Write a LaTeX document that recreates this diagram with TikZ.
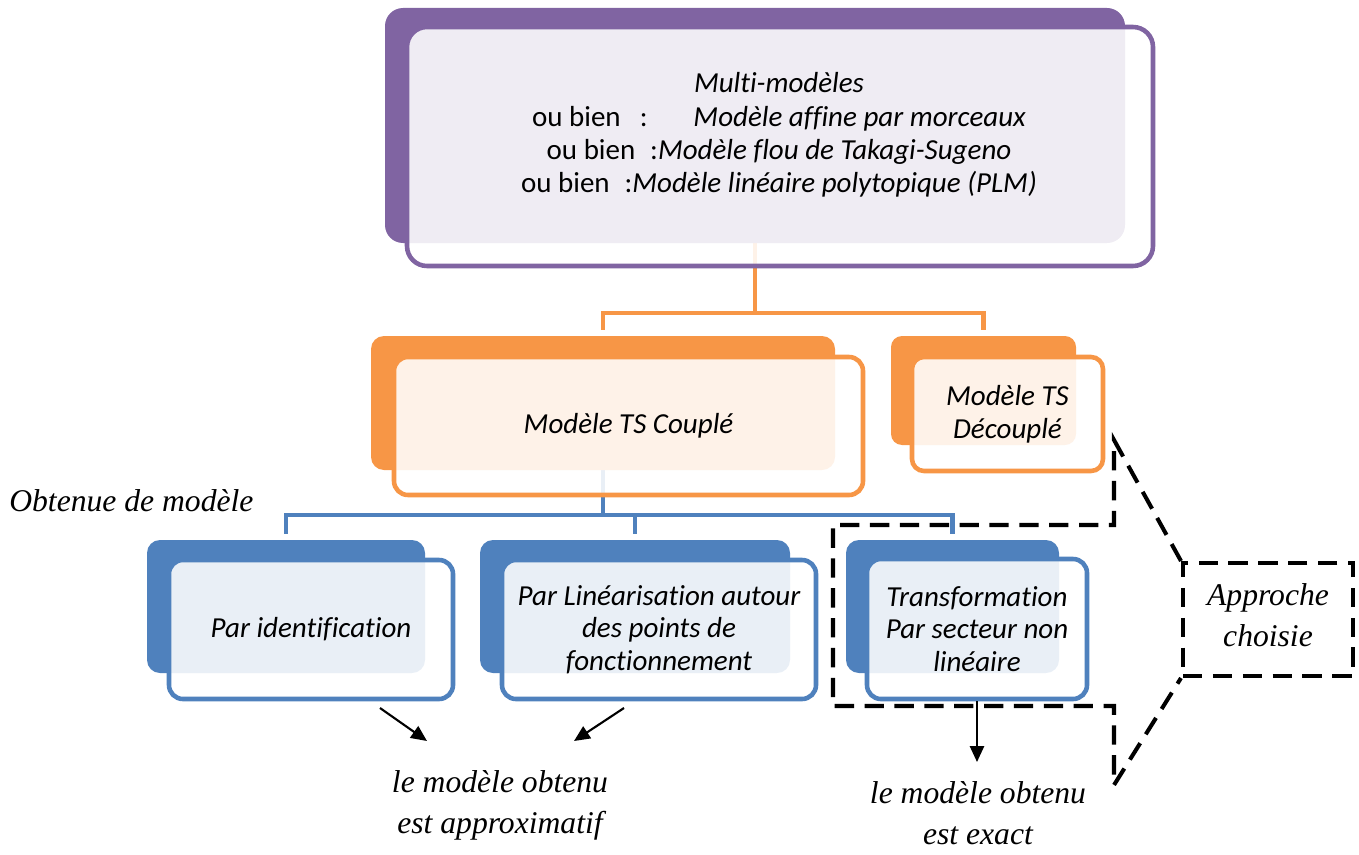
\documentclass[tikz,border=0pt]{standalone}
\usepackage{fontspec}
\setmainfont{Carlito}[Ligatures=NoCommon]
\newfontfamily\tms{Liberation Serif}
\usetikzlibrary{fit,arrows.meta}
\definecolor{mpurple}{HTML}{8064A2}
\definecolor{morange}{HTML}{F79646}
\definecolor{mblue}{HTML}{4F81BD}
\pgfdeclarelayer{bg}
\pgfsetlayers{bg,main}
\newcommand\calitext{\fontsize{16.5}{18.6}\selectfont\itshape}
\newcommand\notetext{\tms\itshape\fontsize{18}{23.4}\selectfont}
\tikzset{
  backbox/.style={fill=#1, rounded corners=0.26cm, inner sep=0pt},
  frontbox/.style={draw=#1, line width=2.6pt, fill=white, fill opacity=0.88,
    rounded corners=0.28cm, inner sep=0pt},
  boxtext/.style={align=center, inner sep=0pt, font=\calitext},
  link/.style={draw=#1, line width=2.4pt},
  pointer/.style={line width=1.2pt, -{Triangle[length=9pt,width=8pt]}},
  callout/.style={line width=2.3pt, dash pattern=on 11pt off 6pt},
  note/.style={font=\notetext, align=center, inner sep=0pt},
}
\begin{document}
\begin{tikzpicture}[x=0.02cm, y=-0.02cm]
\useasboundingbox (0,0) rectangle (1359,855);

% --- top level: family of multi-models
\node[backbox=mpurple, rounded corners=0.36cm, fit={(385,8) (1125,243)}] (topback) {};
\node[frontbox=mpurple, rounded corners=0.4cm, fit={(407,27) (1153,266)}] (topfront) {};
\node[align=center, inner sep=0pt, font=\fontsize{16.5}{19}\selectfont] (toptext) at (779,135)
  {\textit{Multi-modèles}\\
   ou bien\hspace{11pt}:\hspace{26pt}\textit{Modèle affine par morceaux}\\
   ou bien\hspace{8.5pt}:\textit{Modèle flou de Takagi-Sugeno}\\
   ou bien\hspace{8.5pt}:\textit{Modèle linéaire polytopique (PLM)}};

% --- second level: Takagi-Sugeno variants
\node[backbox=morange, fit={(371,336) (835,470)}] (cback) {};
\node[frontbox=morange, fit={(394,357) (863,495)}] (cfront) {};
\node[boxtext] (ctext) at (cfront.center) {Modèle TS Couplé};
\node[backbox=morange, rounded corners=0.22cm, fit={(891,336) (1076,445)}] (dback) {};
\node[frontbox=morange, rounded corners=0.24cm, fit={(912,357) (1103,471)}] (dfront) {};
\node[boxtext] (dtext) at (dfront.center) {Modèle TS\\Découplé};

% --- third level: ways of obtaining the model
\node[backbox=mblue, fit={(147,540) (425,673)}] (b1back) {};
\node[frontbox=mblue, fit={(169,560) (453,699)}] (b1front) {};
\node[boxtext] (b1text) at (b1front.center) {Par identification};
\node[backbox=mblue, fit={(480,540) (790,673)}] (b2back) {};
\node[frontbox=mblue, fit={(502,560) (816,699)}] (b2front) {};
\node[boxtext] (b2text) at (b2front.center) {Par Linéarisation autour\\des points de\\fonctionnement};
\node[backbox=mblue, fit={(846,540) (1059,673)}] (b3back) {};
\node[frontbox=mblue, fit={(867,559) (1087,699)}] (b3front) {};
\node[boxtext] (b3text) at (b3front.center) {Transformation\\Par secteur non\\linéaire};

% --- tree connectors, kept behind the boxes
\begin{pgfonlayer}{bg}
  \draw[link=morange] (topback.south) -- ++(0,70) coordinate (oj);
  \draw[link=morange, shorten <=3.4pt, shorten >=3.4pt] (cback.north) |- (oj) -| (dback.north);
  \draw[link=mblue] (cback.south) -- ++(0,45) coordinate (bj);
  \draw[link=mblue, shorten <=3.4pt, shorten >=3.4pt] (b1back.north) |- (bj) -| (b3back.north);
  \draw[link=mblue, shorten >=3.4pt] (bj -| b2back.north) -- (b2back.north);
\end{pgfonlayer}

% --- annotations
\node[note, anchor=base west] (obt) at (9,511) {Obtenue de modèle};
\node[note] (approx) at (500,805) {le modèle obtenu\\est approximatif};
\node[note] (exact) at (978,813) {le modèle obtenu\\est exact};

\coordinate (p1s) at (380,708);
\coordinate (p1e) at (427,741);
\coordinate (p2s) at (624,708);
\coordinate (p2e) at (574,741);
\coordinate (p3e) at (977,762);
\draw[pointer] (p1s) -- (p1e);
\draw[pointer] (p2s) -- (p2e);
\draw[pointer] (b3front.south) -- (p3e);

% --- callout marking the chosen approach
\node[callout, draw, inner sep=0pt, fit={(1183,563) (1353,676)}] (appr) {};
\node[note] (apprtext) at ([yshift=0.08cm]appr.center) {Approche\\choisie};
\draw[callout, line join=miter] (appr.north west) -- (1114,440) -- (1114,525) -- (833,525)
  -- (833,706) -- (1114,706) -- (1114,785) -- (appr.south west);
\end{tikzpicture}
\end{document}
